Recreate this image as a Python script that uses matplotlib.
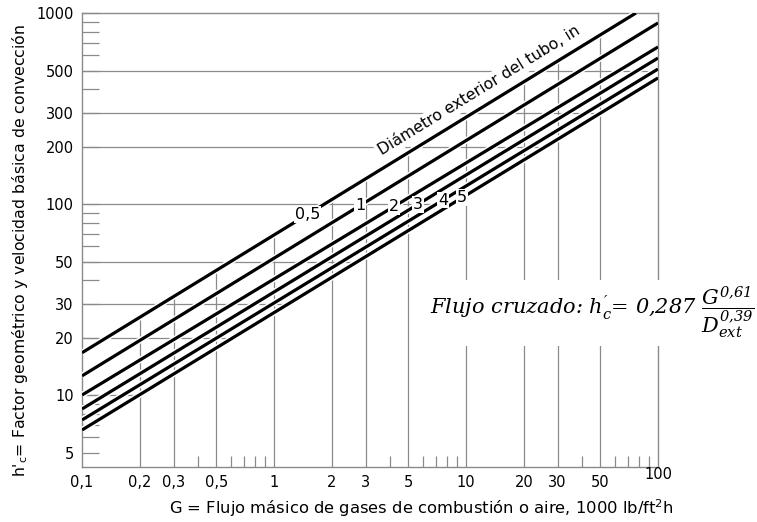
import matplotlib
matplotlib.use("Agg")
import matplotlib.pyplot as plt
import matplotlib.patheffects as pe
import numpy as np

# ---- data ----
diameters = ["0,5", "1", "2", "3", "4", "5"]
g_start = [0.1, 0.1, 0.1, 0.1, 0.1, 0.1]
h_start = [16.65, 12.6, 10.0, 8.45, 7.4, 6.56]
g_end = [76.8, 100, 100, 100, 100, 100]
h_end = [1000, 887, 664, 581, 509, 457]
label_g = [1.49, 2.81, 4.22, 5.62, 7.59, 9.53]

x_major = [0.1, 0.2, 0.3, 0.5, 1, 2, 3, 5, 10, 20, 30, 50, 100]
x_major_labels = ["0,1", "0,2", "0,3", "0,5", "1", "2", "3", "5", "10", "20", "30", "50", ""]
x_minor = [0.4, 0.6, 0.7, 0.8, 0.9, 4, 6, 7, 8, 9, 40, 60, 70, 80, 90]
y_major = [5, 10, 20, 30, 50, 100, 200, 300, 500, 1000]
y_major_labels = ["5", "10", "20", "30", "50", "100", "200", "300", "500", "1000"]
y_minor = [6, 7, 8, 9, 40, 60, 70, 80, 90, 400, 600, 700, 800, 900]
x_grid = [0.2, 0.3, 0.5, 1, 2, 3, 5, 10, 20, 30, 50]
y_grid = [10, 20, 30, 50, 100, 200, 300, 500]

xlim = (0.1, 100)
ylim = (4.2, 1000)

plt.rcParams['font.family'] = ['DejaVu Sans']
plt.rcParams['mathtext.fontset'] = 'dejavusans'
plt.rcParams['mathtext.rm'] = 'DejaVu Serif:italic'
plt.rcParams['mathtext.it'] = 'DejaVu Serif:italic'
plt.rcParams['mathtext.bf'] = 'DejaVu Serif:bold'

fig = plt.figure(figsize=(7.57, 5.22), dpi=100)
ax = fig.add_axes([82/757, 55/522, 576/757, 454/522])
ax.set_xscale('log')
ax.set_yscale('log')
ax.set_xlim(*xlim)
ax.set_ylim(*ylim)

grid_c = '#8a8a8a'

def line_val(i, g):
    lg = np.log10([g_start[i], g_end[i]])
    lh = np.log10([h_start[i], h_end[i]])
    slope = (lh[1] - lh[0]) / (lg[1] - lg[0])
    return 10 ** (lh[0] + slope * (np.log10(g) - lg[0]))

def line_inv(i, h):
    lg = np.log10([g_start[i], g_end[i]])
    lh = np.log10([h_start[i], h_end[i]])
    slope = (lh[1] - lh[0]) / (lg[1] - lg[0])
    return 10 ** (lg[0] + (np.log10(h) - lh[0]) / slope)

# vertical gridlines up to the top line
for g in x_grid:
    ax.plot([g, g], [ylim[0], min(line_val(0, g), ylim[1])], color=grid_c, lw=0.9, zorder=1)
# horizontal gridlines from the left up to the lowest line
last = len(diameters) - 1
for h in y_grid:
    gx = min(line_inv(last, h), xlim[1])
    ax.plot([xlim[0], gx], [h, h], color=grid_c, lw=0.9, zorder=1)

# data lines
for i in range(len(diameters)):
    ax.plot([g_start[i], g_end[i]], [h_start[i], h_end[i]], color='black', lw=2.3,
            solid_capstyle='butt', zorder=3,
            path_effects=[pe.Stroke(linewidth=4.5, foreground='white'), pe.Normal()])

# line labels
for i, lab in enumerate(diameters):
    ax.text(label_g[i], line_val(i, label_g[i]), lab, fontsize=11.5, ha='center', va='center',
            zorder=5, bbox=dict(boxstyle='square,pad=0.05', fc='white', ec='none'))

# rotated annotation along top line
p0 = ax.transData.transform((g_start[0], h_start[0]))
p1 = ax.transData.transform((g_end[0], h_end[0]))
ang = np.degrees(np.arctan2(p1[1] - p0[1], p1[0] - p0[0]))
g_txt = 3.9
th = np.radians(ang)
d = 6.0
ax.annotate("Diámetro exterior del tubo, in", xy=(g_txt, line_val(0, g_txt)),
            xytext=(-np.sin(th) * d, np.cos(th) * d), textcoords='offset points',
            rotation=ang, rotation_mode='anchor', ha='left', va='bottom', fontsize=11.3,
            zorder=4, bbox=dict(boxstyle='square,pad=0.15', fc='white', ec='none'))

# formula
fig.text(0.997, 1 - 313/522,
         r"Flujo cruzado: $h^{\prime}_{c}$= 0,287 $\dfrac{G^{0{,}61}}{D_{ext}^{0{,}39}}$",
         ha='right', va='center', fontsize=15, family='DejaVu Serif', style='italic',
         math_fontfamily='custom', zorder=6,
         bbox=dict(boxstyle='square,pad=0.25', fc='white', ec='none'))

# ticks
ax.set_xticks(x_major)
ax.set_xticklabels(x_major_labels)
ax.set_xticks(x_minor, minor=True)
ax.set_xticklabels([], minor=True)
ax.set_yticks(y_major)
ax.set_yticklabels(y_major_labels)
ax.set_yticks(y_minor, minor=True)
ax.set_yticklabels([], minor=True)
ax.tick_params(axis='both', which='both', direction='in', color=grid_c, labelsize=10.5)
ax.tick_params(axis='x', which='major', length=0, pad=6)
ax.tick_params(axis='x', which='minor', length=8, width=0.9)
ax.tick_params(axis='y', which='major', length=12, width=0.9, pad=6)
ax.tick_params(axis='y', which='minor', length=12, width=0.9)
ax.text(100, 0, "100", transform=ax.get_xaxis_transform(), ha='center', va='top',
        fontsize=10.5)

for s in ax.spines.values():
    s.set_color(grid_c)
    s.set_linewidth(1.0)

fig.text(421/757, 1 - 508/522, "G = Flujo másico de gases de combustión o aire, 1000 lb/ft$^2$h",
         ha='center', va='center', fontsize=11.8)
fig.text(20/757, 1 - 250/522,
         r"h$'_\mathsf{c}$= Factor geométrico y velocidad básica de convección",
         rotation=90, ha='center', va='center', fontsize=11.3)

fig.savefig("out.png", dpi=100)
